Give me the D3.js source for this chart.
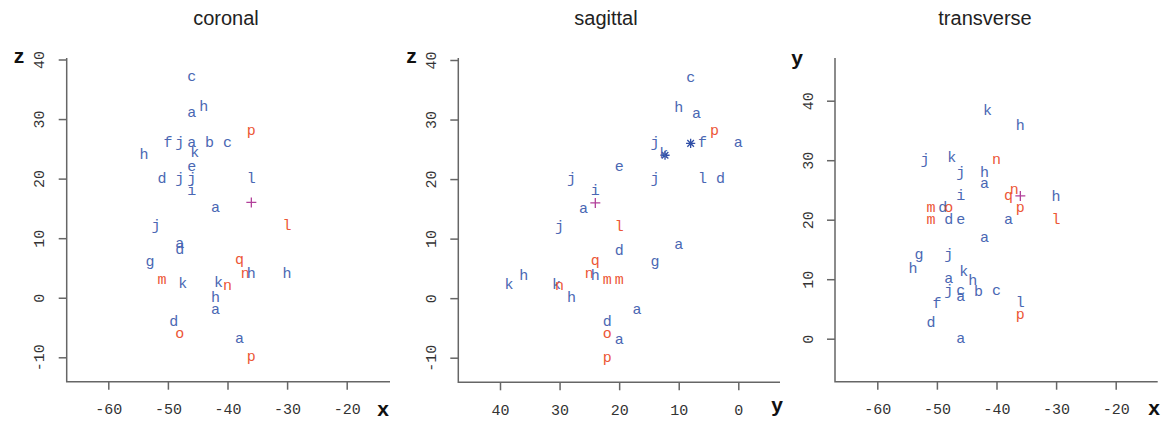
<!DOCTYPE html>
<html><head><meta charset="utf-8">
<script src="https://cdn.jsdelivr.net/npm/d3@7"></script>
<style>html,body{margin:0;padding:0;background:#fff;} svg{display:block;}</style>
</head><body><svg id="chart" width="1165" height="423"></svg>
<script>
// ---------- data ----------
const panelTitles = ["coronal", "sagittal", "transverse"];
const axisNamesX = ["x", "y", "x"];
const axisNamesY = ["z", "z", "y"];

const xTicksCoronal = [-60, -50, -40, -30, -20];
const yTicksCoronal = [-10, 0, 10, 20, 30, 40];
const xTicksSagittal = [40, 30, 20, 10, 0];
const yTicksSagittal = [-10, 0, 10, 20, 30, 40];
const xTicksTransverse = [-60, -50, -40, -30, -20];
const yTicksTransverse = [0, 10, 20, 30, 40];

// group: b = blue label, r = red label, s = purple marker, t = blue star marker
const coronalLabels = ["c","a","h","p","f","j","a","b","c","k","h","e","d","j","j","i","a","l","+","j","l","a","d","g","m","k","q","n","h","h","k","n","h","a","d","o","a","p"];
const coronalX = [-46,-46,-44,-36,-50,-48,-46,-43,-40,-45.5,-54,-46,-51,-48,-46,-46,-42,-36,-36,-52,-30,-48,-48,-53,-51,-47.5,-38,-37,-36,-30,-41.5,-40,-42,-42,-49,-48,-38,-36];
const coronalZ = [37,31,32,28,26,26,26,26,26,24.3,24,22,20,20,20,18,15,20,16,12,12,9,8,6,3,2.3,6.3,4,4,4,2.5,2,0,-2,-4,-6,-7,-10];
const coronalGroup = ["b","b","b","r","b","b","b","b","b","b","b","b","b","b","b","b","b","b","s","b","r","b","b","b","r","b","r","r","b","b","b","r","b","b","b","r","b","r"];

const sagittalLabels = ["c","h","a","p","j","*","k","*","f","a","e","j","j","l","d","i","+","a","j","l","a","d","g","q","n","h","m","m","k","h","k","n","h","a","d","o","a","p"];
const sagittalY = [8,10,7,4,14,12.3,12.5,8,6,0,20,28,14,6,3,24,24,26,30,20,10,20,14,24,25,24,22,20,38.5,36,30.5,30,28,17,22,22,20,22];
const sagittalZ = [37,32,31,28,26,24,24.3,26,26,26,22,20,20,20,20,18,16,15,12,12,9,8,6,6.3,4,3.7,3,3,2.2,3.7,2.3,2,0,-2,-4,-6,-7,-10];
const sagittalGroup = ["b","b","b","r","b","t","b","t","b","b","b","b","b","b","b","b","s","b","b","r","b","b","b","r","r","b","r","r","b","b","b","r","b","b","b","r","b","r"];

const transverseLabels = ["k","h","j","k","n","j","h","a","n","q","+","h","i","m","d","o","p","m","d","e","a","l","a","g","j","h","k","h","a","j","c","a","b","c","l","p","f","d","a"];
const transverseX = [-41.5,-36,-52,-47.5,-40,-46,-42,-42,-37,-38,-36,-30,-46,-51,-49,-48,-36,-51,-48,-46,-38,-30,-42,-53,-48,-54,-45.5,-44,-48,-48,-46,-46,-43,-40,-36,-36,-50,-51,-46];
const transverseY = [38.3,35.7,30,30.3,30,27.8,27.8,26,25,24,24,23.8,24,22,22,22,22,20,20,20,20,20,17,14,14,11.7,11.3,9.7,10,8,8,7,7.8,8,6,4,5.8,2.7,0];
const transverseGroup = ["b","b","b","b","r","b","b","b","r","r","s","b","b","r","b","r","r","r","b","b","b","r","b","b","b","b","b","b","b","b","b","b","b","b","b","r","b","b","b"];

// ---------- styles ----------
const colors = { b: "#4a67b3", r: "#ec5636", s: "#b2409a", t: "#2f4ea6" };
const monoFont = "'Liberation Mono', 'DejaVu Sans Mono', monospace";
const sansFont = "'Liberation Sans', Arial, sans-serif";

const panels = [
  { title: panelTitles[0], titleX: 226, labels: coronalLabels, xs: coronalX, ys: coronalZ, groups: coronalGroup,
    xTicks: xTicksCoronal, yTicks: yTicksCoronal,
    x: d3.scaleLinear().domain([-60, -20]).range([108.3, 346.7]),
    y: d3.scaleLinear().domain([-10, 40]).range([357.3, 59.5]),
    left: 66.7, bottom: 381.7, top: 58, right: 390,
    xName: axisNamesX[0], xNamePos: [383, 416], yName: axisNamesY[0], yNamePos: [19, 63] },
  { title: panelTitles[1], titleX: 606, labels: sagittalLabels, xs: sagittalY, ys: sagittalZ, groups: sagittalGroup,
    xTicks: xTicksSagittal, yTicks: yTicksSagittal,
    x: d3.scaleLinear().domain([40, 0]).range([500, 738.3]),
    y: d3.scaleLinear().domain([-10, 40]).range([357.7, 60]),
    left: 458.3, bottom: 382.3, top: 58, right: 780,
    xName: axisNamesX[1], xNamePos: [777, 412], yName: axisNamesY[1], yNamePos: [411.5, 63] },
  { title: panelTitles[2], titleX: 985, labels: transverseLabels, xs: transverseX, ys: transverseY, groups: transverseGroup,
    xTicks: xTicksTransverse, yTicks: yTicksTransverse,
    x: d3.scaleLinear().domain([-60, -20]).range([877.3, 1115.7]),
    y: d3.scaleLinear().domain([0, 40]).range([338.7, 100.7]),
    left: 835, bottom: 381.7, top: 58, right: 1157.7,
    xName: axisNamesX[2], xNamePos: [1154, 415], yName: axisNamesY[2], yNamePos: [797, 65] }
];

const svg = d3.select("#chart");
svg.append("rect").attr("width", 1165).attr("height", 423).attr("fill", "#fff");

panels.forEach(p => {
  const g = svg.append("g");

  // title
  g.append("text").attr("x", p.titleX).attr("y", 25)
    .attr("text-anchor", "middle").attr("font-family", sansFont)
    .attr("font-size", 20).attr("fill", "#222").text(p.title);

  // bottom axis
  const xa = g.append("g").attr("transform", `translate(0,${p.bottom})`)
    .call(d3.axisBottom(p.x).tickValues(p.xTicks).tickSize(8).tickPadding(14).tickFormat(d => String(d)));
  xa.select(".domain").remove();
  xa.selectAll(".tick line").attr("stroke", "#666").attr("stroke-width", 1.5);
  xa.selectAll(".tick text").attr("font-family", monoFont).attr("font-size", 15).attr("fill", "#333");

  // left axis
  const ya = g.append("g").attr("transform", `translate(${p.left},0)`)
    .call(d3.axisLeft(p.y).tickValues(p.yTicks).tickSize(8).tickFormat(d => String(d)));
  ya.select(".domain").remove();
  ya.selectAll(".tick line").attr("stroke", "#666").attr("stroke-width", 1.5);
  ya.selectAll(".tick text")
    .attr("x", null).attr("dy", null).attr("y", null)
    .attr("text-anchor", "middle")
    .attr("transform", "translate(-22.5,0) rotate(-90)")
    .attr("font-family", monoFont).attr("font-size", 15).attr("fill", "#333");

  // L-shaped frame
  g.append("path")
    .attr("d", `M${p.left},${p.top}V${p.bottom}H${p.right}`)
    .attr("fill", "none").attr("stroke", "#666").attr("stroke-width", 1.5);

  // axis names
  g.append("text").attr("x", p.xNamePos[0]).attr("y", p.xNamePos[1])
    .attr("text-anchor", "middle").attr("font-family", sansFont).attr("font-weight", "bold")
    .attr("font-size", 21).attr("fill", "#111").text(p.xName);
  g.append("text").attr("x", p.yNamePos[0]).attr("y", p.yNamePos[1])
    .attr("text-anchor", "middle").attr("font-family", sansFont).attr("font-weight", "bold")
    .attr("font-size", 21).attr("fill", "#111").text(p.yName);

  // points, drawn in data order so overlaps stack as listed
  const pts = p.labels.map((lab, i) => ({ lab, xv: p.xs[i], yv: p.ys[i], grp: p.groups[i] }));
  const pg = g.append("g");
  pts.forEach(d => {
    const px = p.x(d.xv), py = p.y(d.yv);
    if (d.grp === "b" || d.grp === "r") {
      pg.append("text").attr("x", px).attr("y", py).attr("dy", "0.27em")
        .attr("text-anchor", "middle").attr("font-family", monoFont).attr("font-size", 15)
        .attr("fill", colors[d.grp]).text(d.lab);
    } else {
      const r = d.lab === "*" ? 4.6 : 5;
      let s = `M${-r},0H${r}M0,${-r}V${r}`;
      if (d.lab === "*") { const q = r * 0.72; s += `M${-q},${-q}L${q},${q}M${-q},${q}L${q},${-q}`; }
      pg.append("path").attr("transform", `translate(${px},${py})`).attr("d", s)
        .attr("fill", "none").attr("stroke", colors[d.grp]).attr("stroke-width", d.lab === "*" ? 1.3 : 1.3);
    }
  });
});
</script>
</body></html>
